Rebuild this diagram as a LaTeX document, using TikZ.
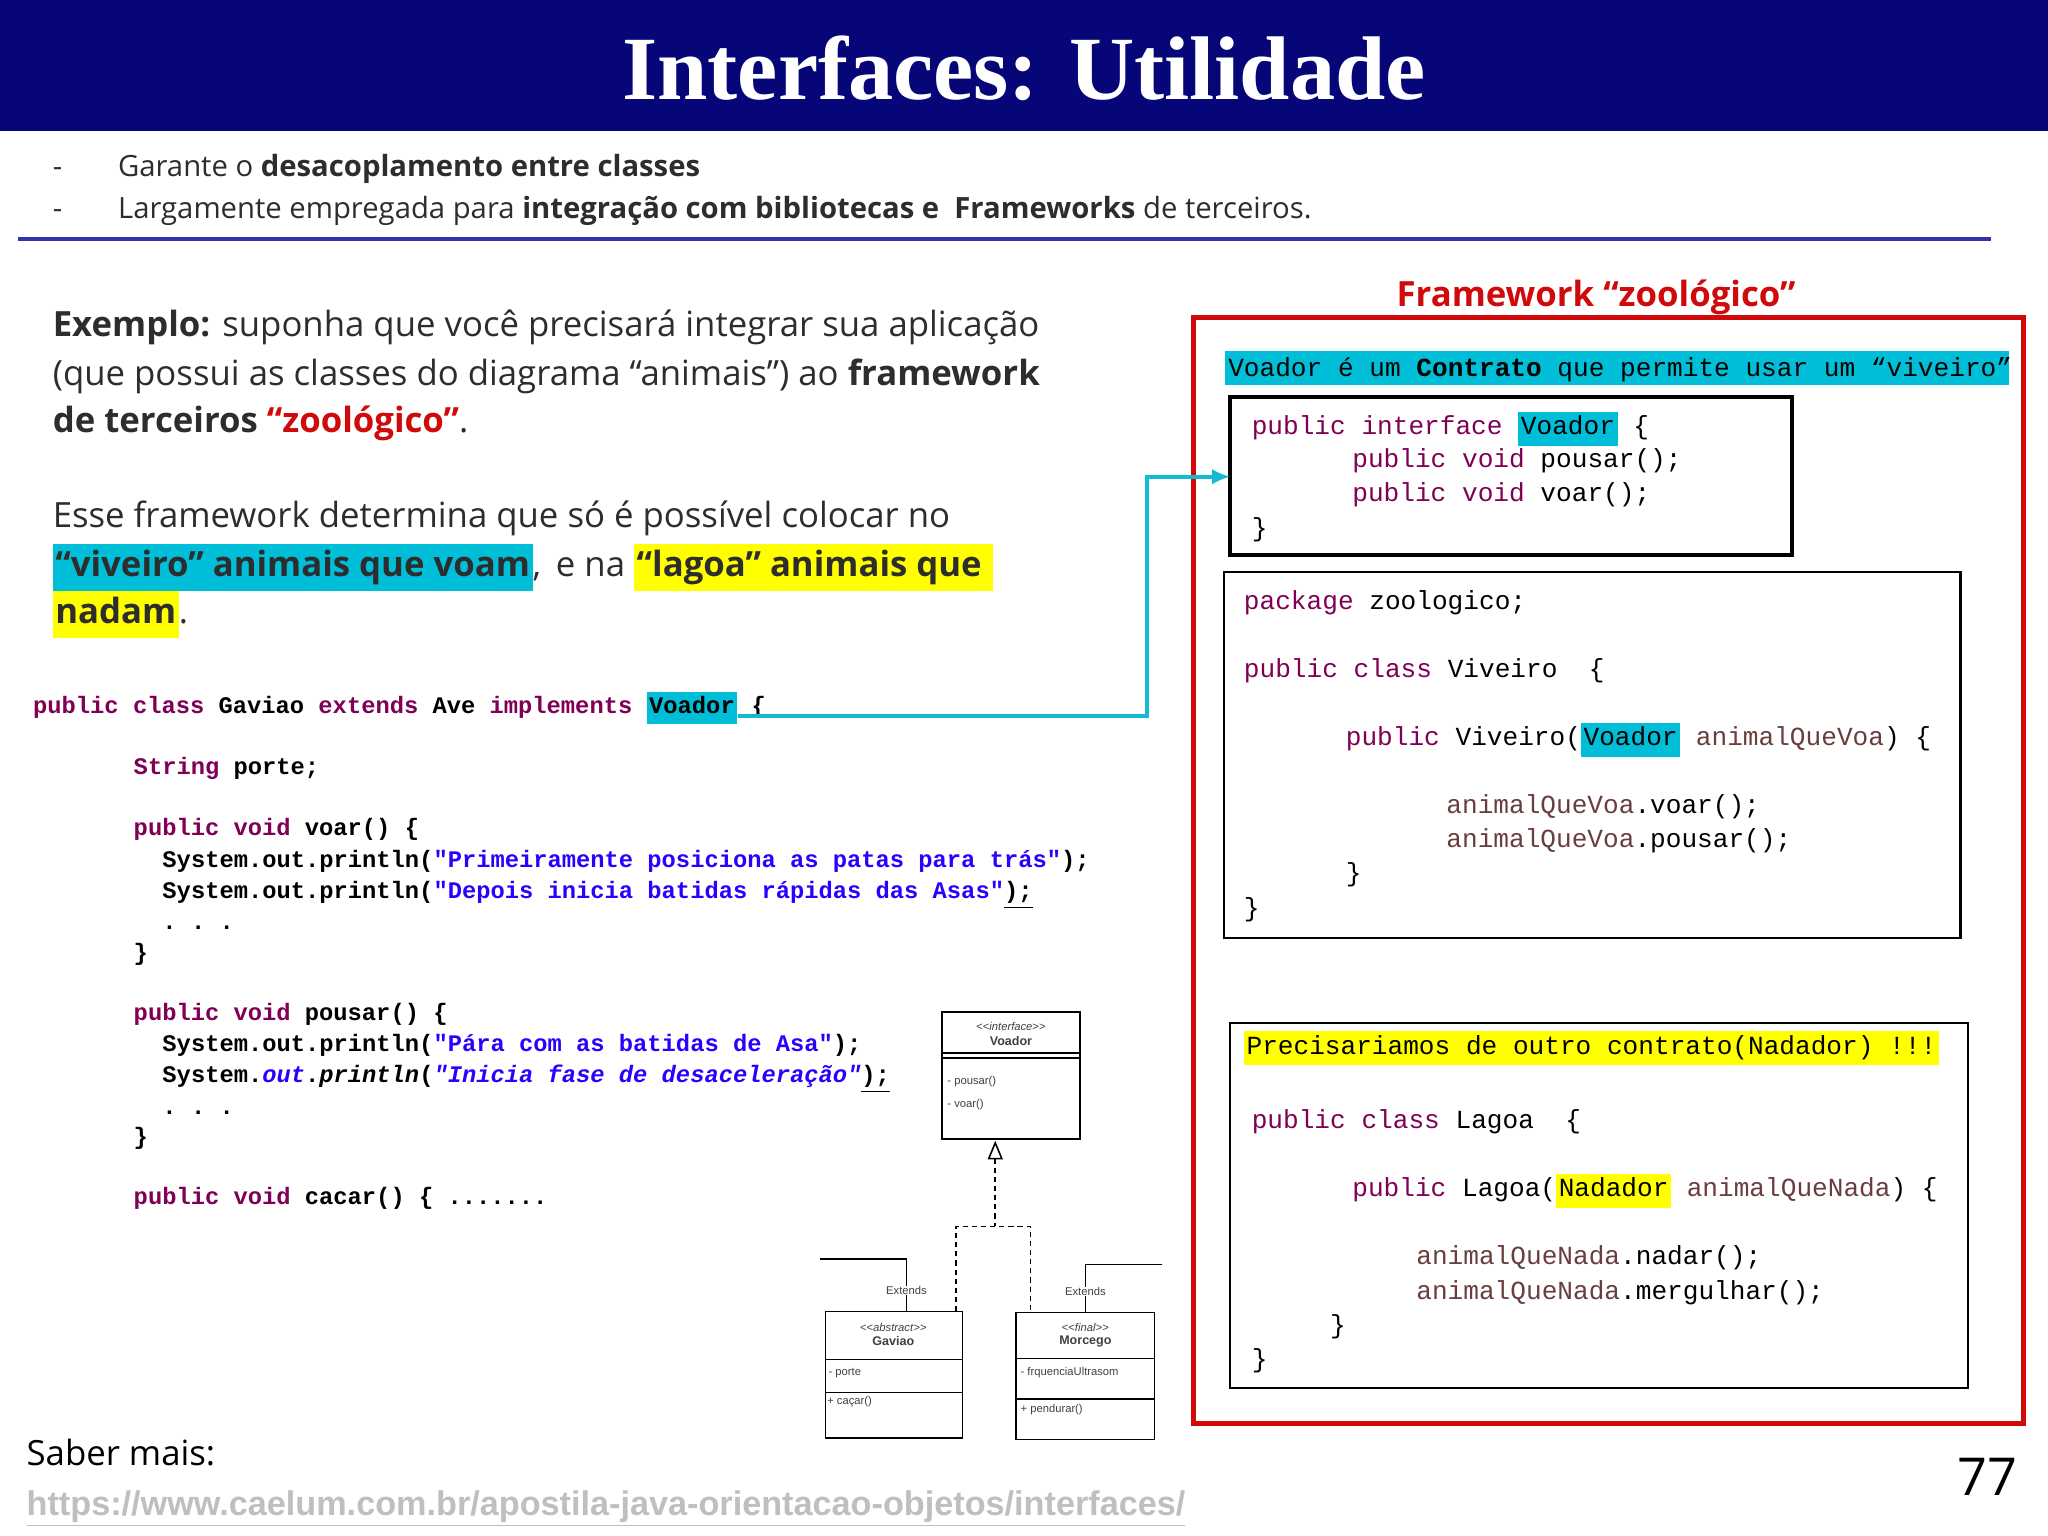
\documentclass[tikz,border=0pt]{standalone}
\usepackage{fontspec}
\usepackage{xcolor}
\setmainfont{Open Sans}
\setmonofont{Liberation Mono}
\newfontfamily\titlefont{Liberation Serif}
\newfontfamily\arialf{Liberation Sans}
\usetikzlibrary{arrows.meta}
\definecolor{navy}{RGB}{6,6,120}
\definecolor{kw}{RGB}{127,0,85}
\definecolor{str}{RGB}{42,0,255}
\definecolor{fld}{RGB}{106,62,62}
\definecolor{hcy}{RGB}{0,190,215}
\definecolor{hye}{RGB}{255,255,0}
\definecolor{redf}{RGB}{208,10,10}
\definecolor{txt}{RGB}{45,45,45}
\definecolor{conn}{RGB}{20,185,210}
\newcommand\hc[1]{{\setlength\fboxsep{1pt}\colorbox{hcy}{\strut #1}}}
\newcommand\hy[1]{{\setlength\fboxsep{1pt}\colorbox{hye}{\strut #1}}}
\newcommand\kk[1]{\textcolor{kw}{#1}}
\newcommand\sq[1]{\textcolor{str}{#1}}
\newcommand\ff[1]{\textcolor{fld}{#1}}
\tikzset{x=0.5pt,y=-0.5pt,
 t/.style={anchor=base west,inner sep=0},
 lc/.style={t,font=\ttfamily\bfseries\fontsize{9.1pt}{10pt}\selectfont},
 rc/.style={t,font=\ttfamily\fontsize{10pt}{11pt}\selectfont},
 bl/.style={t,font=\fontsize{11.2pt}{13pt}\selectfont,text=txt},
 lp/.style={t,font=\fontsize{13.3pt}{16pt}\selectfont,text=txt},
 um/.style={draw,line width=0.6pt},
 ut/.style={inner sep=0,font=\arialf\fontsize{4.3pt}{5pt}\selectfont,text=black!75}}
\begin{document}
\begin{tikzpicture}
\useasboundingbox (0,0) rectangle (1568,1176);
\fill[white] (0,0) rectangle (1568,1176);
\fill[navy] (0,0) rectangle (1568,100);
\node[text=white,font=\titlefont\bfseries\fontsize{34.6pt}{40pt}\selectfont] (title) at (784,52) {Interfaces: Utilidade};
% bullets
\node[bl] (d1) at (40,135) {-};
\node[bl] (b1) at (90,135) {Garante o \textbf{desacoplamento entre classes}};
\node[bl] (d2) at (40,167) {-};
\node[bl] (b2) at (90,167) {Largamente empregada para \textbf{integração com bibliotecas e \ Frameworks} de terceiros.};
\draw[line width=1.5pt,color={rgb,255:red,50;green,50;blue,170}] (14,183) -- (1524,183);
% left paragraph
\node[lp] (p1) at (40,258) {\textbf{Exemplo:} suponha que você precisará integrar sua aplicação};
\node[lp] (p2) at (40,295) {(que possui as classes do diagrama “animais”) ao \textbf{framework}};
\node[lp] (p3) at (40,331) {\textbf{de terceiros \textcolor{redf}{“zoológico”}}.};
\node[lp] (p4) at (40,404) {Esse framework determina que só é possível colocar no};
\node[lp] (p5) at (40,441) {\hc{\textbf{“viveiro” animais que voam}},\, e na \hy{\textbf{“lagoa” animais que }}};
\node[lp] (p6) at (40,477) {\hy{\textbf{nadam}}.};
% left code
\node[lc] (c1) at (25,546) {\kk{public class} Gaviao \kk{extends} Ave \kk{implements} \hc{Voador} \{};
\coordinate (cs) at (565,548);
\node[lc] (c2) at (102,593) {\kk{String} porte;};
\node[lc] (c3) at (102,640) {\kk{public void} voar() \{};
\node[lc] (c4) at (124,664) {System.out.println(\sq{"Primeiramente posiciona as patas para trás"});};
\node[lc] (c5) at (124,688) {System.out.println(\sq{"Depois inicia batidas rápidas das Asas"}\underline{);}};
\node[lc] (c6) at (124,712) {. . .};
\node[lc] (c7) at (102,735) {\}};
\node[lc] (c8) at (102,781) {\kk{public void} pousar() \{};
\node[lc] (c9) at (124,805) {System.out.println(\sq{"Pára com as batidas de Asa"});};
\node[lc] (c10) at (124,829) {System.\sq{\itshape out}.{\itshape println}(\sq{\itshape "Inicia fase de desaceleração"}\underline{);}};
\node[lc] (c11) at (124,853) {. . .};
\node[lc] (c12) at (102,876) {\}};
\node[lc] (c13) at (102,922) {\kk{public void} cacar() \{ .......};
% framework
\node[anchor=base,inner sep=0,text=redf,font=\bfseries\fontsize{13.3pt}{16pt}\selectfont] (fw) at (1222,235) {Framework “zoológico”};
\draw[redf,line width=2pt] (914,243) rectangle (1549,1090);
\fill[hcy] (938,269) rectangle (1538,295);
\node[rc] (ct) at (940,288) {Voador é um \textbf{Contrato} que permite usar um “viveiro”};
\draw[line width=1.5pt] (942,304) rectangle (1372,425);
\coordinate (vbox) at (942,365);
\node[rc] (v1) at (958,333) {\kk{public interface} \hc{Voador} \{};
\node[rc] (v2) at (1035,358) {\kk{public void} pousar();};
\node[rc] (v3) at (1035,384) {\kk{public void} voar();};
\node[rc] (v4) at (958,411) {\}};
\draw[line width=0.8pt] (937,438) rectangle (1501,718);
\node[rc] (w1) at (952,467) {\kk{package} zoologico;};
\node[rc] (w2) at (952,519) {\kk{public class} Viveiro \ \{};
\node[rc] (w3) at (1030,571) {\kk{public} Viveiro(\hc{Voador} \ff{animalQueVoa}) \{};
\node[rc] (w4) at (1107,623) {\ff{animalQueVoa}.voar();};
\node[rc] (w5) at (1107,649) {\ff{animalQueVoa}.pousar();};
\node[rc] (w6) at (1030,675) {\}};
\node[rc] (w7) at (952,702) {\}};
\draw[line width=0.8pt] (942,783) rectangle (1507,1063);
\node[rc] (l0) at (952,807) {\hy{Precisariamos de outro contrato(Nadador) !!!}};
\node[rc] (l1) at (958,864) {\kk{public class} Lagoa \ \{};
\node[rc] (l2) at (1035,916) {\kk{public} Lagoa(\hy{Nadador} \ff{animalQueNada}) \{};
\node[rc] (l3) at (1084,968) {\ff{animalQueNada}.nadar();};
\node[rc] (l4) at (1084,995) {\ff{animalQueNada}.mergulhar();};
\node[rc] (l5) at (1018,1021) {\}};
\node[rc] (l6) at (958,1047) {\}};
\draw[conn,line width=1.5pt,-{Latex[length=7pt,width=6pt]}] (cs) -- (878,548) |- (vbox);
% UML
\draw[um] (721,775) rectangle (827,872);
\draw[um] (721,806) -- (827,806) (721,810) -- (827,810);
\node[ut] (u1) at (774,786) {<<\textit{interface}>>};
\node[ut,font=\arialf\bfseries\fontsize{4.8pt}{5pt}\selectfont] (u2) at (774,797) {Voador};
\node[ut,anchor=west] (u3) at (725,828) {- pousar()};
\node[ut,anchor=west] (u4) at (725,846) {- voar()};
\draw[um] (632,1004) rectangle (737,1101);
\draw[um] (632,1041) -- (737,1041) (632,1066) -- (737,1066);
\node[ut] (g1) at (684,1016) {<<\textit{abstract}>>};
\node[ut,font=\arialf\bfseries\fontsize{4.8pt}{5pt}\selectfont] (g2) at (684,1027) {Gaviao};
\node[ut,anchor=west] (g3) at (634,1051) {- porte};
\node[ut,anchor=west] (g4) at (633,1073) {+ caçar()};
\draw[um] (778,1005) rectangle (884,1102);
\draw[um] (778,1040) -- (884,1040) (778,1071) -- (884,1071);
\node[ut] (m1) at (831,1016) {<<\textit{final}>>};
\node[ut,font=\arialf\bfseries\fontsize{4.8pt}{5pt}\selectfont] (m2) at (831,1027) {Morcego};
\node[ut,anchor=west] (m3) at (781,1051) {- frquenciaUltrasom};
\node[ut,anchor=west] (m4) at (781,1079) {+ pendurar()};
\draw[um,dashed,dash pattern=on 2pt off 1.5pt] (762,887) -- (762,939) (732,1004) -- (732,939) -- (789,939) -- (789,1005);
\draw[um,fill=white] (762,875) -- (757,887) -- (767,887) -- cycle;
\node[ut] (e1) at (694,988) {Extends};
\node[ut] (e2) at (831,989) {Extends};
\draw[um] (628,964) -- (694,964) -- (e1.north) (e1.south) -- (694,1004);
\draw[um] (890,968) -- (831,968) -- (e2.north) (e2.south) -- (831,1005);
% footer
\node[t,font=\fontsize{13.3pt}{16pt}\selectfont] (sm) at (20,1122) {Saber mais:};
\node[t,font=\arialf\bfseries\fontsize{13.1pt}{14pt}\selectfont,text=black!25] (url) at (20,1160) {\underline{https://www.caelum.com.br/apostila-java-orientacao-objetos/interfaces/}};
\node[t,font=\fontsize{20pt}{22pt}\selectfont] (pg) at (1498,1145) {77};
\end{tikzpicture}
\end{document}
